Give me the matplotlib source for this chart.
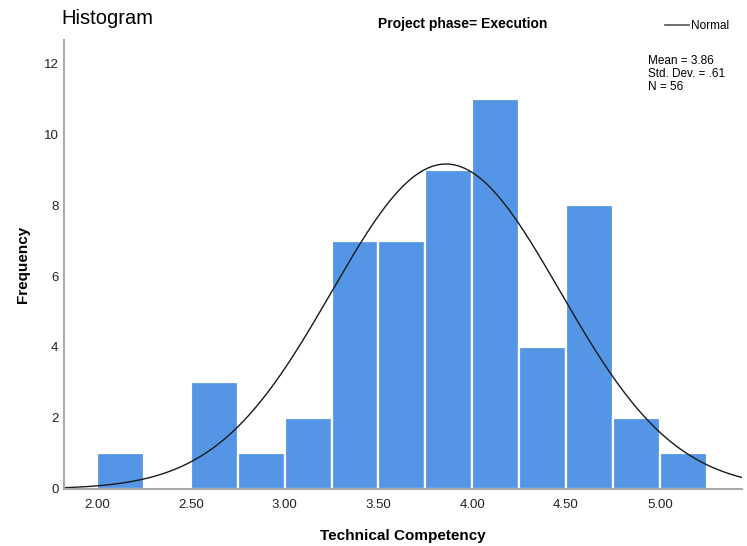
import numpy as np
import matplotlib
matplotlib.use("Agg")
import matplotlib.pyplot as plt

plt.rcParams['font.family'] = ['Liberation Sans', 'DejaVu Sans']

bin_edges = [2.00, 2.25, 2.50, 2.75, 3.00, 3.25, 3.50, 3.75, 4.00, 4.25, 4.50, 4.75, 5.00, 5.25]
frequencies = [1, 0, 3, 1, 2, 7, 7, 9, 11, 4, 8, 2, 1]
x_ticks = [2.00, 2.50, 3.00, 3.50, 4.00, 4.50, 5.00]
x_tick_labels = ["2.00", "2.50", "3.00", "3.50", "4.00", "4.50", "5.00"]
y_ticks = [0, 2, 4, 6, 8, 10, 12]
mean_val = 3.86
sd_val = 0.61
n_val = 56

fig = plt.figure(figsize=(7.47, 5.46), dpi=100)
ax = fig.add_axes([0.0857, 0.1045, 0.9076, 0.8222])

lefts = bin_edges[:-1]
widths = np.diff(bin_edges)
ax.bar(lefts, frequencies, width=widths, align='edge', color='#5595E5',
       edgecolor='white', linewidth=1.6, zorder=2)

xmin, xmax = 1.824, 5.438
xs = np.linspace(xmin, xmax, 400)
bw = widths[0]
ys = n_val * bw / (sd_val * np.sqrt(2 * np.pi)) * np.exp(-0.5 * ((xs - mean_val) / sd_val) ** 2)
ax.plot(xs, ys, color='#1a1a1a', linewidth=1.0, zorder=3)

ax.set_xlim(xmin, xmax)
ax.set_ylim(0, 12.65)
ax.set_xticks(x_ticks)
ax.set_xticklabels(x_tick_labels)
ax.set_yticks(y_ticks)
ax.tick_params(axis='both', length=0, labelsize=9.5, colors='#222222')
ax.tick_params(axis='x', pad=7)
ax.tick_params(axis='y', pad=4)
for s in ['top', 'right']:
    ax.spines[s].set_visible(False)
for s in ['left', 'bottom']:
    ax.spines[s].set_color('#AAAAAA')
    ax.spines[s].set_linewidth(1.5)
    ax.spines[s].set_zorder(4)

ax.set_xlabel("Technical Competency", fontsize=11, fontweight='bold', labelpad=13)
ax.set_ylabel("Frequency", fontsize=11, fontweight='bold', labelpad=10)

fig.text(61/747, 1 - 19/546, "Histogram", fontsize=14.5, ha='left', va='center')
fig.text(463/747, 1 - 24/546, "Project phase= Execution", fontsize=10, fontweight='bold',
         ha='center', va='center')

# legend
fig.lines.append(plt.Line2D([665/747, 689/747], [1 - 25/546, 1 - 25/546],
                            transform=fig.transFigure, color='#555555', linewidth=1.2))
fig.text(691/747, 1 - 26/546, "Normal", fontsize=8.5, ha='left', va='center')

fig.text(648/747, 1 - 55/546, "Mean = %.2f\nStd. Dev. = .%02d\nN = %d" % (mean_val, round(sd_val * 100), n_val),
         fontsize=8.5, ha='left', va='top', linespacing=1.1)

fig.savefig("out.png", dpi=100)
